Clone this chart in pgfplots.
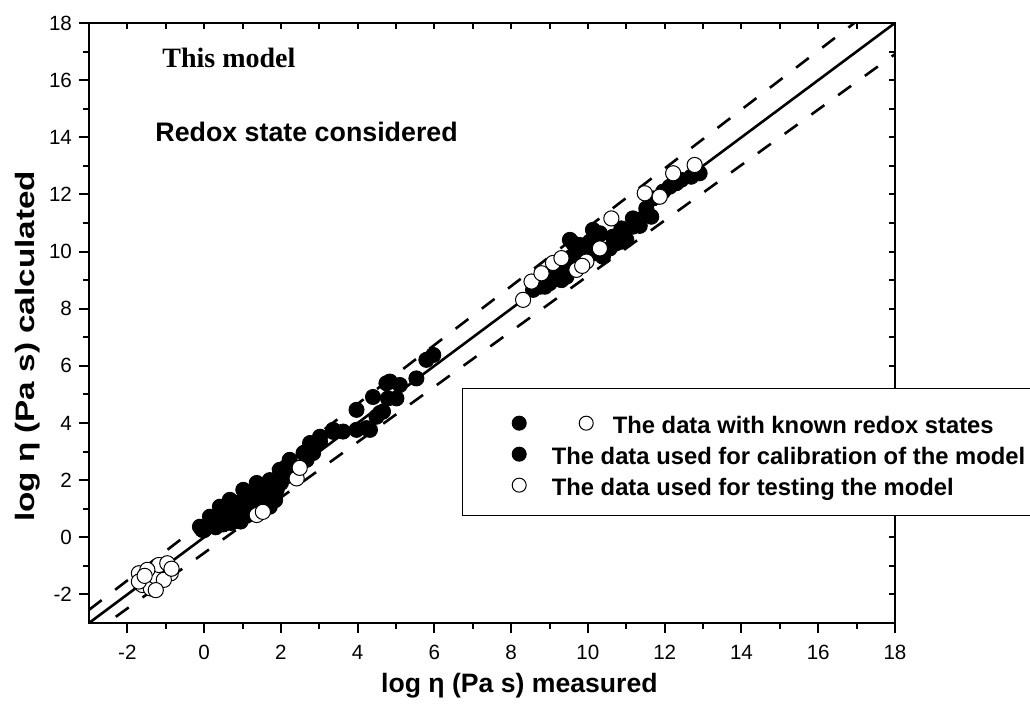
\documentclass[border=0pt]{standalone}
\usepackage{fontspec}
\setmainfont{Liberation Sans}
\newfontfamily\timesfont{Liberation Serif}
\usepackage{pgfplots}
\pgfplotsset{compat=1.18}

\begin{document}
\begin{tikzpicture}
% top / right inward ticks
\begin{axis}[
  at={(44.5pt,41pt)}, anchor=south west,
  scale only axis, width=403pt, height=300pt,
  xmin=-3, xmax=18, ymin=-3, ymax=18,
  xtick={-2,0,...,18}, ytick={-2,0,...,18},
  minor x tick num=1, minor y tick num=1,
  xticklabels={}, yticklabels={},
  xtick pos=right, ytick pos=right,
  tick align=inside,
  major tick length=3pt, minor tick length=3pt,
  axis line style={line width=1.2pt},
  every tick/.style={black, line width=1pt},
]
\end{axis}

\begin{axis}[
  at={(44.5pt,41pt)}, anchor=south west,
  scale only axis, width=403pt, height=300pt,
  xmin=-3, xmax=18, ymin=-3, ymax=18,
  xtick={-2,0,...,18}, ytick={-2,0,...,18},
  minor x tick num=1, minor y tick num=1,
  xtick pos=left, ytick pos=left,
  tick align=outside,
  major tick length=5pt, minor tick length=3pt,
  axis line style={line width=1.2pt},
  every tick/.style={black, line width=1pt},
  /pgf/number format/assume math mode=true,
  ticklabel style={font=\fontsize{10.3}{12}\selectfont},
  xticklabel style={anchor=base, yshift=-13.5pt},
  xlabel={log η (Pa s) measured},
  ylabel={\scalebox{1.25}[1]{log η (Pa s) calculated}},
  label style={font=\fontsize{13.3}{15}\selectfont\bfseries},
  xlabel style={at={([yshift=-35pt]axis description cs:0.534,0)}, anchor=base},
  ylabel style={at={([xshift=-27pt]axis description cs:0,0.461)}, anchor=base},
  legend style={
    at={(0.4628,0.3917)}, anchor=north west,
    draw=black, line width=0.6pt, fill=white,
    inner xsep=24.5pt, inner ysep=6.5pt,
    row sep=1pt, column sep=0pt,
    font=\fontsize{11.9}{14}\selectfont\bfseries,
    cells={anchor=west, inner sep=0pt, text height=9pt, text depth=3pt},
  },
]
\addplot[only marks, mark=*, mark size=3.8pt, mark options={fill=black, draw=black, line width=0.4pt}, forget plot] coordinates {
(-0.11,0.37) (-0.05,0.26) (0.0,0.25) (0.15,0.72) (0.17,0.43) (0.2,0.5) (0.3,0.35) (0.41,1.07) (0.4,0.6) (0.49,1.07) (0.5,0.45) (0.59,0.61) (0.6,0.85) (0.67,1.31) (0.7,0.5) (0.75,1.0) (0.8,0.7) (0.85,1.2) (0.93,0.85) (0.95,0.55) (1.0,1.05) (1.02,1.66) (1.1,0.75) (1.15,1.4) (1.19,1.2) (1.25,0.95) (1.3,1.6) (1.37,1.9) (1.4,1.1) (1.45,1.35) (1.53,1.55) (1.6,1.2) (1.65,1.75) (1.71,2.0) (1.71,1.07) (1.79,1.42) (1.85,1.3) (1.89,1.66) (1.97,2.36) (2.0,1.9) (2.1,2.1) (2.23,2.71) (2.3,2.3) (2.59,2.95) (2.67,2.71) (2.76,3.3) (2.84,2.95) (3.02,3.34) (3.02,3.52) (3.36,3.76) (3.36,3.69) (3.62,3.7) (3.97,4.46) (3.97,3.76) (4.23,3.82) (4.32,3.76) (4.4,4.91) (4.49,4.22) (4.58,4.35) (4.66,4.4) (4.79,4.86) (5.01,4.86) (4.75,5.39) (4.84,5.45) (5.1,5.33) (5.53,5.56) (5.79,6.21) (5.97,6.38)
(8.57,8.66) (8.75,8.77) (8.88,8.77) (8.92,9.0) (9.0,8.89) (9.09,9.06) (9.09,9.24) (9.18,9.3) (9.27,9.59) (9.31,9.0) (9.44,9.12) (9.48,9.36) (9.57,9.71) (9.57,9.82) (9.53,10.41) (9.61,10.3) (9.74,10.06) (9.79,10.23) (9.87,9.95) (9.96,10.17) (10.05,10.35) (10.13,10.76) (10.22,9.94) (10.31,10.64) (10.39,9.82) (10.57,10.11) (10.65,10.52) (10.74,10.29) (10.83,10.52) (10.87,10.81) (10.9,10.35) (11.0,10.41) (11.17,10.87) (11.17,11.16) (11.35,10.9) (11.52,11.34) (11.52,11.51) (11.65,11.22) (11.7,11.86) (11.96,12.1) (12.13,12.27) (12.3,12.39) (12.43,12.51) (12.69,12.62) (12.91,12.74)
};
\addplot[only marks, mark=*, mark size=3.8pt, mark options={fill=white, draw=black, line width=0.5pt}, forget plot] coordinates {
(-1.7,-1.26) (-1.61,-1.67) (-1.39,-1.79) (-1.26,-1.38) (-1.18,-0.97) (-0.96,-0.91) (-0.87,-1.26) (-1.05,-1.49) (-1.26,-1.85) (-1.7,-1.55) (-1.48,-1.14) (-0.85,-1.1) (-1.55,-1.35)
(1.37,0.78) (1.53,0.89) (2.41,2.06) (2.49,2.43)
(8.31,8.31) (8.53,8.95) (8.79,9.24) (9.09,9.6) (9.31,9.77) (9.7,9.36) (9.96,9.65) (10.31,10.11) (10.61,11.16) (11.48,12.04) (11.87,11.92) (12.22,12.74) (12.78,13.03) (9.85,9.5)
};
\addplot[black, line width=1.3pt, forget plot] coordinates {(-3,-3) (18,18)};
\addplot[black, line width=1.3pt, dash pattern=on 8pt off 8.5pt, forget plot] coordinates {(-3,-2.54) (18,19.09)};
\addplot[black, line width=1.3pt, dash pattern=on 8pt off 8.5pt, forget plot] coordinates {(-3,-3.46) (18,16.91)};

\addlegendimage{legend image code/.code={
  \draw[fill=black, line width=0.5pt] (0pt,1.3pt) circle (3.5pt);
  \draw[fill=white, line width=0.5pt, overlay] (33.5pt,1.3pt) circle (3.5pt);
  \path (-3.5pt,11.8pt) (14pt,0pt);
}}
\addlegendentry{\hspace*{30.5pt}The data with known redox states}
\addlegendimage{legend image code/.code={
  \draw[fill=black, line width=0.5pt] (0pt,1.3pt) circle (3.5pt);
  \path (-3.5pt,0pt) (14pt,0pt);
}}
\addlegendentry{The data used for calibration of the model}
\addlegendimage{legend image code/.code={
  \draw[fill=white, line width=0.5pt] (0pt,1.3pt) circle (3.5pt);
  \path (-3.5pt,0pt) (14pt,0pt);
}}
\addlegendentry{The data used for testing the model}
\end{axis}

\node[anchor=base west, inner sep=0pt, font=\timesfont\bfseries\fontsize{14}{16}\selectfont] at (81pt,318.5pt) {This model};
\node[anchor=base west, inner sep=0pt, font=\fontsize{13.4}{16}\selectfont\bfseries] at (77.5pt,281.5pt) {Redox state considered};

\pgfresetboundingbox
\path[use as bounding box] (0,0) rectangle (515pt,352.5pt);
\end{tikzpicture}
\end{document}
